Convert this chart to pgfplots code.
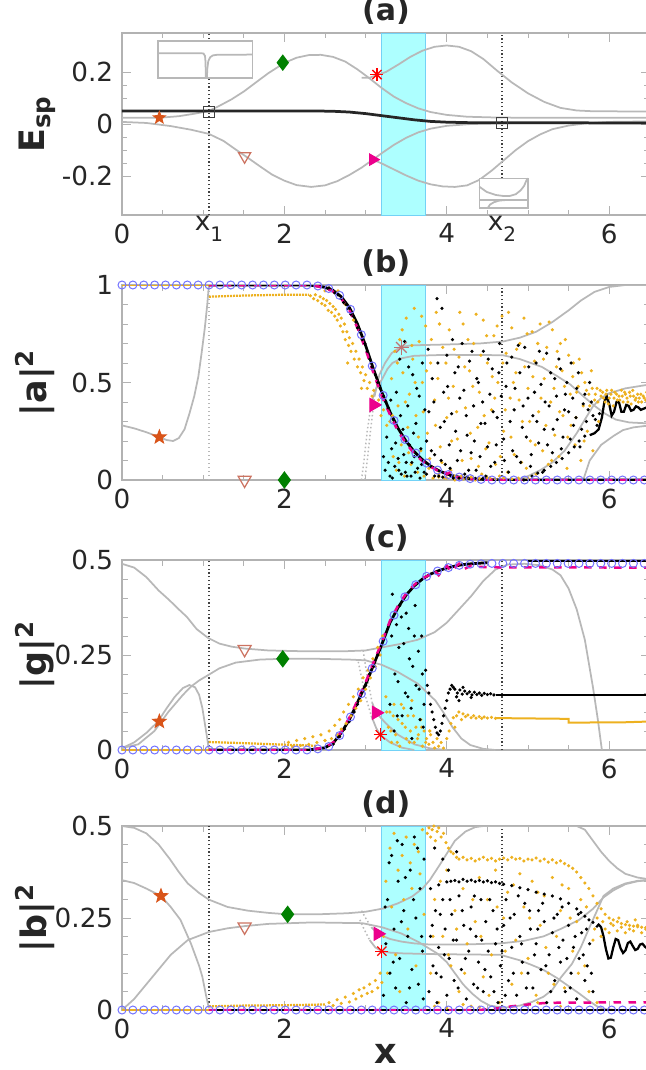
\documentclass[border=0pt]{standalone}
\usepackage{fontspec}
\setmainfont{DejaVu Sans}
\usepackage{pgfplots}
\pgfplotsset{compat=1.18}
\usetikzlibrary{plotmarks}

\definecolor{mlorange}{rgb}{0.929,0.694,0.125}
\definecolor{cgray}{rgb}{0.72,0.72,0.72}
\definecolor{axgray}{rgb}{0.70,0.70,0.70}
\definecolor{starc}{rgb}{0.85,0.33,0.10}
\definecolor{tric}{rgb}{0.80,0.45,0.38}
\definecolor{astb}{rgb}{0.75,0.45,0.45}
\definecolor{circc}{rgb}{0.45,0.45,1.0}
\definecolor{dgreen}{rgb}{0.0,0.5,0.0}
\definecolor{bandc}{rgb}{0.68,1.0,1.0}

% filled five-pointed star
\pgfdeclareplotmark{fstar}{%
  \pgfpathmoveto{\pgfpointpolar{90}{\pgfplotmarksize}}%
  \pgfpathlineto{\pgfpointpolar{126}{0.42\pgfplotmarksize}}%
  \pgfpathlineto{\pgfpointpolar{162}{\pgfplotmarksize}}%
  \pgfpathlineto{\pgfpointpolar{198}{0.42\pgfplotmarksize}}%
  \pgfpathlineto{\pgfpointpolar{234}{\pgfplotmarksize}}%
  \pgfpathlineto{\pgfpointpolar{270}{0.42\pgfplotmarksize}}%
  \pgfpathlineto{\pgfpointpolar{306}{\pgfplotmarksize}}%
  \pgfpathlineto{\pgfpointpolar{342}{0.42\pgfplotmarksize}}%
  \pgfpathlineto{\pgfpointpolar{18}{\pgfplotmarksize}}%
  \pgfpathlineto{\pgfpointpolar{54}{0.42\pgfplotmarksize}}%
  \pgfpathclose\pgfusepathqfillstroke}

\pgfplotsset{
  panel/.style={
    scale only axis, width=211.12pt, anchor=north west,
    xmin=0, xmax=6.5,
    xtick={0,2,4,6}, xticklabels={0,2,4,6}, minor x tick num=3,
    tick align=inside,
    major tick length=3.6pt, minor tick length=2.2pt,
    axis line style={draw=axgray, line width=0.5pt},
    tick style={draw=axgray, line width=0.4pt},
    tick label style={font=\fontsize{10.5}{12}\selectfont, text=black!85},
    /pgf/number format/assume math mode=true,
    title style={font=\bfseries\fontsize{12}{14}\selectfont, yshift=-6pt, text=black!85},
    ylabel style={font=\bfseries\fontsize{14}{16}\selectfont, at={(axis description cs:-0.11,0.5)}, anchor=south, text=black!85},
    xlabel style={font=\bfseries\fontsize{14}{16}\selectfont, yshift=4.5pt, text=black!85},
  },
  gcurve/.style={cgray, line width=0.7pt},
  vline/.style={black!75, densely dotted, line width=0.5pt},
  dots/.style={only marks, mark=*, mark size=0.42pt, mark options={draw=none}},
}

\begin{document}
\begin{tikzpicture}
\useasboundingbox (0,0) rectangle (258.4pt,-428pt);

% ---------------- (a) ----------------
\begin{axis}[panel, at={(48.8pt,-13.2pt)}, height=72.8pt,
  ymin=-0.35, ymax=0.35, ytick={-0.2,0,0.2}, yticklabels={-0.2,0,0.2}, minor y tick num=3,
  extra x ticks={1.07,4.68},
  extra x tick labels={x\raisebox{-0.4em}{\fontsize{8}{9}\selectfont 1}, x\raisebox{-0.4em}{\fontsize{8}{9}\selectfont 2}},
  extra x tick style={tick style={draw=none}, tick label style={yshift=3pt}},
  title={(a)}, ylabel={E\textsubscript{sp}}]
\addplot[fill=bandc, draw=cyan!55, line width=0.3pt] coordinates {(3.2,-0.35) (3.2,0.35) (3.73,0.35) (3.73,-0.35)} -- cycle;
\addplot[vline] coordinates {(1.07,-0.35) (1.07,0.35)};
\addplot[vline] coordinates {(4.68,-0.209) (4.68,0.35)};
\addplot[gcurve] coordinates {(0,0.024) (0.3,0.024) (0.5,0.025) (0.7,0.03) (0.9,0.04) (1.07,0.05) (1.2,0.07) (1.35,0.095) (1.5,0.125) (1.65,0.16) (1.8,0.195) (2.0,0.235) (2.15,0.255) (2.3,0.265) (2.45,0.266) (2.6,0.258) (2.75,0.24) (2.9,0.21) (3.05,0.175) (3.2,0.138) (3.35,0.105) (3.5,0.08) (3.65,0.06) (3.8,0.046) (4.0,0.035) (4.25,0.028) (4.6,0.025) (5.0,0.024) (6.5,0.024)};
\addplot[gcurve] coordinates {(2.95,0.178) (3.05,0.178) (3.14,0.188) (3.25,0.2) (3.4,0.228) (3.55,0.258) (3.7,0.282) (3.85,0.297) (4.0,0.302) (4.15,0.297) (4.3,0.28) (4.45,0.25) (4.62,0.205) (4.8,0.16) (5.0,0.118) (5.2,0.085) (5.4,0.062) (5.6,0.052) (5.8,0.049) (6.5,0.048)};
\addplot[gcurve] coordinates {(0,0.008) (0.3,0.004) (0.6,-0.008) (0.85,-0.022) (1.07,-0.038) (1.25,-0.065) (1.4,-0.098) (1.55,-0.13) (1.7,-0.163) (1.85,-0.195) (2.0,-0.218) (2.15,-0.235) (2.33,-0.242) (2.5,-0.236) (2.65,-0.22) (2.8,-0.196) (2.95,-0.168) (3.09,-0.137) (3.2,-0.112) (3.35,-0.08) (3.5,-0.053) (3.65,-0.032) (3.8,-0.018) (4.0,-0.007) (4.3,0.0) (4.8,0.003) (6.5,0.004)};
\addplot[gcurve] coordinates {(3.09,-0.137) (3.2,-0.152) (3.35,-0.175) (3.5,-0.198) (3.65,-0.218) (3.8,-0.232) (3.95,-0.24) (4.1,-0.242) (4.25,-0.236) (4.4,-0.215) (4.55,-0.18) (4.7,-0.14) (4.85,-0.1) (5.0,-0.066) (5.15,-0.04) (5.3,-0.02) (5.5,-0.006) (5.7,0.002) (6.0,0.008) (6.5,0.01)};
\addplot[black!85, line width=1.1pt] coordinates {(0,0.05) (2.4,0.05) (2.6,0.049) (2.8,0.046) (3.0,0.04) (3.2,0.032) (3.4,0.024) (3.6,0.016) (3.8,0.01) (4.0,0.007) (4.3,0.005) (6.5,0.004)};
% insets
\addplot[fill=white, draw=cgray, line width=0.6pt] coordinates {(0.445,0.177) (0.445,0.319) (1.61,0.319) (1.61,0.177)} -- cycle;
\addplot[gcurve] coordinates {(0.445,0.272) (0.981,0.272) (1.004,0.271) (1.022,0.262) (1.028,0.241) (1.031,0.205) (1.033,0.177)};
\addplot[gcurve] coordinates {(1.045,0.177) (1.051,0.213) (1.062,0.241) (1.086,0.257) (1.121,0.264) (1.167,0.266) (1.61,0.267)};
\addplot[fill=white, draw=cgray, line width=0.6pt] coordinates {(4.4,-0.324) (4.4,-0.209) (5.0,-0.209) (5.0,-0.324)} -- cycle;
\addplot[gcurve] coordinates {(4.4,-0.241) (4.49,-0.261) (4.604,-0.273) (4.7,-0.277) (4.772,-0.277) (4.85,-0.27) (4.91,-0.255) (4.952,-0.238) (4.982,-0.216) (5.0,-0.209)};
\addplot[gcurve] coordinates {(4.4,-0.292) (5.0,-0.292)};
\addplot[gcurve] coordinates {(4.502,-0.324) (4.532,-0.31) (4.58,-0.301) (4.64,-0.295) (4.7,-0.293) (4.76,-0.292)};
% markers
\addplot[only marks, mark=square, mark size=2.1pt, black!75, line width=0.5pt] coordinates {(1.07,0.046) (4.68,0.004)};
\addplot[only marks, mark=fstar, mark size=2.5pt, starc] coordinates {(0.46,0.024)};
\addplot[only marks, mark=triangle, mark size=2.8pt, tric, line width=0.5pt, mark options={rotate=180}] coordinates {(1.51,-0.124)};
\addplot[only marks, mark=diamond*, mark size=3pt, dgreen] coordinates {(1.98,0.236)};
\addplot[only marks, mark=triangle*, mark size=2.6pt, magenta, mark options={rotate=-90}] coordinates {(3.09,-0.137)};
\addplot[only marks, mark=+, mark size=2.6pt, red, line width=0.5pt] coordinates {(3.14,0.19)};
\addplot[only marks, mark=x, mark size=2.6pt, red, line width=0.5pt] coordinates {(3.14,0.19)};
\end{axis}

% ---------------- (b) ----------------
\begin{axis}[panel, at={(48.8pt,-114pt)}, height=78pt,
  ymin=0, ymax=1, ytick={0,0.5,1}, yticklabels={0,0.5,1}, minor y tick num=4,
  title={(b)}, ylabel={|a|\textsuperscript{2}}]
\addplot[fill=bandc, draw=cyan!55, line width=0.3pt] coordinates {(3.2,0) (3.2,1) (3.73,1) (3.73,0)} -- cycle;
\addplot[cgray, densely dotted, line width=0.6pt] coordinates {(1.07,0) (1.07,1)};
\addplot[vline] coordinates {(4.68,0) (4.68,1)};
\addplot[gcurve] coordinates {(0,0.28) (0.15,0.265) (0.3,0.245) (0.46,0.22) (0.55,0.205) (0.63,0.2) (0.7,0.215) (0.77,0.26) (0.83,0.34) (0.89,0.43) (0.94,0.53) (0.98,0.65) (1.02,0.78) (1.05,0.9) (1.07,1.0) (2.3,1.0)};
\addplot[cgray, densely dotted, line width=0.6pt] coordinates {(2.99,0) (3.02,0.1) (3.06,0.25) (3.11,0.43)};
\addplot[gcurve] coordinates {(3.11,0.43) (3.17,0.54) (3.24,0.6) (3.32,0.65) (3.42,0.68) (3.55,0.69) (3.7,0.692) (4.0,0.695) (4.4,0.7) (4.69,0.71) (4.9,0.73) (5.1,0.76) (5.3,0.81) (5.5,0.87) (5.65,0.92) (5.82,0.965) (6.0,0.99) (6.2,1.0) (6.5,1.0)};
\addplot[cgray, densely dotted, line width=0.6pt] coordinates {(2.95,0) (2.98,0.1) (3.02,0.25) (3.07,0.395)};
\addplot[gcurve] coordinates {(3.07,0.395) (3.13,0.47) (3.2,0.515) (3.27,0.57) (3.33,0.6) (3.45,0.625) (3.6,0.637) (4.0,0.642) (4.69,0.64) (4.9,0.62) (5.17,0.58) (5.35,0.535) (5.52,0.49) (5.68,0.43) (5.82,0.38) (5.95,0.34) (6.08,0.31) (6.25,0.295) (6.5,0.29)};
\addplot[gcurve] coordinates {(4.85,0) (5.0,0.02) (5.15,0.05) (5.3,0.09) (5.45,0.15) (5.6,0.24) (5.7,0.31) (5.8,0.378) (5.9,0.42) (6.0,0.445) (6.2,0.47) (6.5,0.49)};
\addplot[gcurve] coordinates {(5.68,0) (5.76,0.1) (5.9,0.18) (6.05,0.225) (6.17,0.256) (6.3,0.27) (6.5,0.28)};
\addplot[mlorange, line width=1pt] coordinates {(0,1) (1.07,1)};
\addplot[mlorange, line width=0.9pt, dash pattern=on 0.8pt off 0.4pt] coordinates {(1.07,0.94) (1.5,0.946) (2.0,0.95) (2.3,0.95)};
\addplot[dots, mlorange] coordinates {(2.32,0.945) (2.36,0.93) (2.38,0.95) (2.41,0.92) (2.44,0.94) (2.46,0.905) (2.48,0.93) (2.5,0.895) (2.52,0.92) (2.54,0.87) (2.56,0.905) (2.58,0.86) (2.6,0.89) (2.62,0.84) (2.63,0.875) (2.65,0.82) (2.67,0.85) (2.69,0.79) (2.7,0.83) (2.72,0.76) (2.74,0.8) (2.75,0.72) (2.77,0.76) (2.79,0.69) (2.8,0.73) (2.82,0.66) (2.84,0.7) (2.86,0.62) (2.88,0.66) (2.9,0.58) (2.92,0.62) (2.94,0.55) (2.96,0.58) (2.98,0.51) (3.0,0.54) (3.02,0.47) (3.05,0.5) (3.08,0.43) (3.1,0.46) (3.13,0.38) (3.16,0.41) (3.19,0.33) (3.22,0.36) (3.26,0.28) (3.3,0.3) (2.5,0.97) (2.66,0.97) (2.75,0.9) (2.85,0.82) (2.78,0.6) (2.95,0.47)
 (3.32,0.52) (3.34,0.12) (3.36,0.66) (3.38,0.05) (3.4,0.38) (3.42,0.72) (3.44,0.18) (3.46,0.55) (3.48,0.02) (3.5,0.83) (3.52,0.27) (3.54,0.44) (3.56,0.08) (3.58,0.62) (3.6,0.88) (3.62,0.33) (3.64,0.04) (3.66,0.71) (3.68,0.15) (3.7,0.5) (3.72,0.02) (3.74,0.79) (3.76,0.24) (3.78,0.06) (3.8,0.6) (3.83,0.01) (3.85,0.41) (3.87,0.86) (3.9,0.03) (3.92,0.17) (3.95,0.68) (3.97,0.01) (4.0,0.32) (4.03,0.77) (4.05,0.05) (4.08,0.48) (4.1,0.0) (4.13,0.21) (4.15,0.63) (4.18,0.02) (4.2,0.8) (4.23,0.37) (4.25,0.01) (4.28,0.56) (4.3,0.11) (4.33,0.7) (4.35,0.0) (4.38,0.27) (4.4,0.45) (4.43,0.03) (4.45,0.82) (4.48,0.16) (4.5,0.6) (4.53,0.01) (4.55,0.36) (4.58,0.74) (4.6,0.08) (4.63,0.5) (4.65,0.02) (4.68,0.84) (4.7,0.25) (4.73,0.65) (4.75,0.04) (4.78,0.42) (4.8,0.78) (4.83,0.13) (4.85,0.55) (4.88,0.01) (4.9,0.7) (4.93,0.3) (4.95,0.83) (4.98,0.06) (5.0,0.47) (5.03,0.2) (5.05,0.76) (5.08,0.61) (5.1,0.03) (5.13,0.35) (5.15,0.8) (5.18,0.15) (5.2,0.52) (5.23,0.68) (5.25,0.08) (5.28,0.4) (5.3,0.77) (5.33,0.23) (5.35,0.58) (5.38,0.12) (5.4,0.7) (5.43,0.33) (5.45,0.48) (5.48,0.06) (5.5,0.64) (5.53,0.28) (5.55,0.53) (5.58,0.18) (5.6,0.45) (5.63,0.62) (5.65,0.1) (5.68,0.38) (5.7,0.5) (5.73,0.25) (5.75,0.44) (5.78,0.56) (5.8,0.15) (5.82,0.41) (5.85,0.47) (5.87,0.3) (5.9,0.43) (5.92,0.45) (5.95,0.4) (5.97,0.46) (6.0,0.42) (6.02,0.44) (6.05,0.38) (6.07,0.45) (6.1,0.41) (6.12,0.43) (6.15,0.46) (6.17,0.4) (6.2,0.44) (6.22,0.42) (6.25,0.45) (6.27,0.39) (6.3,0.43) (6.32,0.41) (6.35,0.44) (6.37,0.42) (6.4,0.4) (6.42,0.43) (6.45,0.41) (6.48,0.44)
 (3.9,0.015) (4.0,0.01) (4.1,0.02) (4.2,0.005) (4.3,0.015) (4.4,0.008) (4.5,0.012) (4.6,0.004) (4.7,0.01) (4.8,0.006) (4.9,0.003) (5.0,0.008)
 (3.33,0.33) (3.39,0.6) (3.41,0.09) (3.45,0.77) (3.49,0.4) (3.53,0.14) (3.57,0.69) (3.61,0.5) (3.65,0.22) (3.69,0.84) (3.71,0.35) (3.75,0.56) (3.79,0.11) (3.81,0.72) (3.86,0.28) (3.89,0.52) (3.91,0.8) (3.94,0.09) (3.99,0.6) (4.02,0.42) (4.06,0.2) (4.09,0.67) (4.12,0.35) (4.16,0.86) (4.19,0.1) (4.22,0.58) (4.26,0.72) (4.29,0.24) (4.32,0.48) (4.36,0.85) (4.39,0.07) (4.42,0.64) (4.46,0.33) (4.49,0.74) (4.52,0.19) (4.56,0.53) (4.59,0.42) (4.62,0.79) (4.66,0.12) (4.69,0.6) (4.72,0.36) (4.76,0.86) (4.79,0.22) (4.82,0.5) (4.86,0.67) (4.89,0.41) (4.92,0.09) (4.96,0.58) (4.99,0.75) (5.02,0.3) (5.06,0.53) (5.09,0.18) (5.12,0.7) (5.16,0.42) (5.19,0.62) (5.22,0.28) (5.26,0.81) (5.29,0.1) (5.32,0.47) (5.36,0.66) (5.39,0.35) (5.42,0.56) (5.46,0.72) (5.49,0.22) (5.52,0.44) (5.56,0.6) (5.59,0.32) (5.62,0.48) (5.66,0.55) (5.69,0.2) (5.72,0.46) (5.76,0.38) (5.79,0.47) (5.83,0.44) (5.86,0.4) (5.89,0.46) (5.93,0.42) (5.96,0.44) (5.99,0.39) (6.03,0.46) (6.06,0.42) (6.09,0.44) (6.13,0.41) (6.16,0.43) (6.19,0.45) (6.23,0.4) (6.26,0.43) (6.29,0.46) (6.33,0.42) (6.36,0.4) (6.39,0.44) (6.43,0.42) (6.46,0.45) (6.49,0.41)};
\addplot[dots, black] coordinates {(2.55,0.985) (2.62,0.96) (2.66,0.95) (2.7,0.93) (2.73,0.91) (2.76,0.9) (2.78,0.88) (2.82,0.85) (2.85,0.84) (2.88,0.81) (2.9,0.78) (2.93,0.76) (2.96,0.72) (2.99,0.7) (3.02,0.66) (3.05,0.62) (3.08,0.58) (3.12,0.54) (3.15,0.5) (3.18,0.47) (3.22,0.43) (3.25,0.4) (3.28,0.37)
 (3.22,0.12) (3.24,0.05) (3.26,0.22) (3.28,0.09) (3.3,0.02) (3.32,0.16) (3.34,0.31) (3.36,0.07) (3.38,0.45) (3.4,0.11) (3.42,0.62) (3.44,0.03) (3.46,0.26) (3.48,0.71) (3.5,0.09) (3.52,0.38) (3.54,0.18) (3.56,0.02) (3.58,0.54) (3.6,0.12) (3.62,0.29) (3.64,0.06) (3.66,0.43) (3.68,0.16) (3.7,0.6) (3.72,0.04) (3.75,0.2) (3.78,0.35) (3.8,0.07) (3.82,0.52) (3.85,0.13) (3.88,0.93) (3.9,0.02) (3.92,0.27) (3.94,0.88) (3.96,0.45) (3.98,0.08) (4.0,0.64) (4.03,0.18) (4.06,0.34) (4.08,0.01) (4.1,0.55) (4.13,0.1) (4.16,0.42) (4.19,0.7) (4.22,0.03) (4.25,0.23) (4.28,0.61) (4.3,0.14) (4.33,0.38) (4.36,0.05) (4.39,0.5) (4.42,0.29) (4.45,0.66) (4.48,0.02) (4.5,0.17) (4.53,0.44) (4.56,0.57) (4.59,0.09) (4.62,0.32) (4.65,0.7) (4.7,0.21) (4.73,0.48) (4.76,0.04) (4.8,0.63) (4.83,0.36) (4.86,0.12) (4.9,0.55) (4.93,0.27) (4.96,0.68) (5.0,0.42) (5.03,0.07) (5.06,0.33) (5.1,0.6) (5.13,0.19) (5.16,0.49) (5.2,0.26) (5.23,0.65) (5.26,0.38) (5.3,0.14) (5.33,0.52) (5.36,0.31) (5.4,0.57) (5.43,0.22) (5.46,0.44) (5.5,0.35) (5.53,0.6) (5.56,0.28) (5.6,0.47) (5.64,0.17) (5.68,0.39) (5.72,0.3) (5.76,0.5) (5.8,0.33) (5.85,0.28)
 (4.95,0.0) (5.05,0.02) (5.12,0.035) (5.2,0.05) (5.28,0.07) (5.35,0.09) (5.42,0.11) (5.5,0.14) (5.57,0.17) (5.63,0.2) (5.7,0.225)
 (3.75,0.03) (3.85,0.02) (3.95,0.015) (4.05,0.02) (4.15,0.01) (4.25,0.015) (4.35,0.008) (4.45,0.01)
 (3.31,0.41) (3.37,0.19) (3.43,0.33) (3.49,0.04) (3.53,0.58) (3.59,0.24) (3.63,0.47) (3.69,0.08) (3.73,0.36) (3.77,0.67) (3.81,0.15) (3.84,0.4) (3.89,0.6) (3.93,0.1) (3.97,0.3) (4.01,0.48) (4.04,0.06) (4.07,0.72) (4.11,0.25) (4.14,0.58) (4.17,0.15) (4.21,0.46) (4.24,0.33) (4.27,0.05) (4.31,0.66) (4.34,0.2) (4.37,0.52) (4.41,0.12) (4.44,0.4) (4.47,0.29) (4.51,0.62) (4.54,0.07) (4.57,0.35) (4.61,0.18) (4.64,0.55) (4.67,0.43) (4.71,0.1) (4.74,0.6) (4.78,0.3) (4.81,0.15) (4.84,0.47) (4.88,0.69) (4.91,0.09) (4.94,0.38) (4.98,0.22) (5.01,0.58) (5.04,0.13) (5.08,0.45) (5.11,0.3) (5.14,0.66) (5.18,0.04) (5.21,0.4) (5.24,0.18) (5.28,0.55) (5.31,0.26) (5.35,0.43) (5.38,0.62) (5.41,0.16) (5.45,0.36) (5.48,0.5) (5.52,0.21) (5.55,0.42) (5.59,0.32) (5.62,0.55) (5.66,0.26) (5.7,0.44) (5.74,0.36) (5.78,0.4) (5.83,0.31) (5.88,0.34)
 (3.33,0.01) (3.41,0.05) (3.47,0.13) (3.51,0.02) (3.57,0.09) (3.61,0.04) (3.67,0.01) (3.71,0.1)};
\addplot[black, line width=1.1pt] coordinates {(1.07,1) (2.3,1) (2.4,0.995) (2.5,0.988) (2.6,0.972) (2.7,0.94) (2.8,0.885) (2.9,0.8) (3.0,0.69) (3.1,0.565) (3.2,0.45) (3.3,0.35) (3.4,0.265) (3.5,0.198) (3.6,0.145) (3.7,0.104) (3.8,0.072) (3.9,0.048) (4.0,0.031) (4.1,0.019) (4.2,0.011) (4.3,0.006) (4.5,0.002) (4.7,0) (6.5,0)};
\addplot[black, line width=0.9pt] coordinates {(5.76,0.23) (5.82,0.24) (5.87,0.26) (5.91,0.32) (5.94,0.4) (5.97,0.43) (6.0,0.39) (6.03,0.33) (6.06,0.35) (6.09,0.4) (6.12,0.4) (6.15,0.35) (6.18,0.35) (6.21,0.385) (6.24,0.38) (6.27,0.355) (6.3,0.36) (6.33,0.378) (6.36,0.372) (6.39,0.36) (6.42,0.365) (6.46,0.372) (6.5,0.368)};
\addplot[magenta, dashed, line width=1pt] coordinates {(1.07,1) (2.3,1) (2.4,0.994) (2.5,0.985) (2.6,0.966) (2.7,0.93) (2.8,0.87) (2.9,0.78) (3.0,0.67) (3.1,0.545) (3.2,0.43) (3.3,0.335) (3.4,0.25) (3.5,0.187) (3.6,0.135) (3.7,0.097) (3.8,0.068) (3.9,0.045) (3.95,0.05) (4.0,0.03) (4.05,0.042) (4.1,0.016) (4.2,0.01) (4.3,0.005) (4.5,0.002) (4.7,0) (6.5,0)};
\addplot[only marks, mark=o, mark size=1.6pt, circc, line width=0.4pt] coordinates {(0,1) (0.134,1) (0.268,1) (0.402,1) (0.536,1) (0.67,1) (0.804,1) (0.938,1) (1.072,1) (1.206,1) (1.34,1) (1.474,1) (1.608,1) (1.742,1) (1.876,1) (2.01,1) (2.144,1) (2.278,1) (2.412,0.995) (2.546,0.982) (2.68,0.947) (2.814,0.875) (2.948,0.745) (3.082,0.585) (3.216,0.434) (3.35,0.305) (3.484,0.208) (3.618,0.138) (3.752,0.087) (3.886,0.051) (4.02,0.028) (4.154,0.015) (4.288,0.007) (4.422,0.003) (4.556,0) (4.69,0) (4.824,0) (4.958,0) (5.092,0) (5.226,0) (5.36,0) (5.494,0) (5.628,0) (5.762,0) (5.896,0) (6.03,0) (6.164,0) (6.298,0) (6.432,0)};
\addplot[only marks, mark=fstar, mark size=2.8pt, starc] coordinates {(0.46,0.22)};
\addplot[only marks, mark=triangle, mark size=3pt, tric, line width=0.5pt, mark options={rotate=180}] coordinates {(1.51,0.0)};
\addplot[only marks, mark=diamond*, mark size=3.2pt, dgreen] coordinates {(2.0,0.0)};
\addplot[only marks, mark=triangle*, mark size=3pt, magenta, mark options={rotate=-90}] coordinates {(3.1,0.385)};
\addplot[only marks, mark=+, mark size=3pt, astb, line width=0.5pt] coordinates {(3.44,0.68)};
\addplot[only marks, mark=x, mark size=3pt, astb, line width=0.5pt] coordinates {(3.44,0.68)};
\end{axis}

% ---------------- (c) ----------------
\begin{axis}[panel, at={(48.8pt,-224pt)}, height=76pt,
  ymin=0, ymax=0.5, ytick={0,0.25,0.5}, yticklabels={0,0.25,0.5}, minor y tick num=4,
  title={(c)}, ylabel={|g|\textsuperscript{2}}]
\addplot[fill=bandc, draw=cyan!55, line width=0.3pt] coordinates {(3.2,0) (3.2,0.5) (3.73,0.5) (3.73,0)} -- cycle;
\addplot[vline] coordinates {(1.07,0) (1.07,0.5)};
\addplot[vline] coordinates {(4.68,0) (4.68,0.5)};
\addplot[gcurve] coordinates {(0,0.49) (0.15,0.48) (0.3,0.455) (0.45,0.42) (0.58,0.395) (0.7,0.37) (0.8,0.35) (0.92,0.318) (1.06,0.295) (1.2,0.28) (1.35,0.272) (1.51,0.267) (1.8,0.262) (2.2,0.26) (2.76,0.26) (3.0,0.262) (3.2,0.27) (3.4,0.278) (3.64,0.29) (3.85,0.31) (4.0,0.335) (4.15,0.37) (4.3,0.405) (4.45,0.445) (4.6,0.475) (4.75,0.488) (4.96,0.49) (5.15,0.486) (5.3,0.475) (5.4,0.46) (5.5,0.425) (5.6,0.37) (5.7,0.29) (5.8,0.165) (5.86,0.08) (5.91,0.0)};
\addplot[gcurve] coordinates {(0,0.005) (0.15,0.02) (0.3,0.045) (0.44,0.074) (0.55,0.11) (0.65,0.14) (0.75,0.163) (0.83,0.171) (0.9,0.165) (0.95,0.145) (0.99,0.11) (1.02,0.07) (1.05,0.03) (1.07,0.0)};
\addplot[gcurve] coordinates {(0,0.005) (0.2,0.015) (0.4,0.05) (0.57,0.1) (0.75,0.145) (0.85,0.167) (0.95,0.183) (1.06,0.197) (1.2,0.215) (1.4,0.23) (1.7,0.238) (1.98,0.24) (2.4,0.24) (2.8,0.238) (3.0,0.236) (3.2,0.224) (3.4,0.205) (3.64,0.175) (3.86,0.13) (3.97,0.095) (4.07,0.06) (4.18,0.03) (4.29,0.013) (4.45,0.003) (4.6,0.0)};
\addplot[cgray, densely dotted, line width=0.6pt] coordinates {(2.97,0.262) (3.0,0.22) (3.04,0.17) (3.08,0.125)};
\addplot[gcurve] coordinates {(3.08,0.125) (3.13,0.098) (3.25,0.07) (3.4,0.04) (3.6,0.015) (3.8,0.004) (4.0,0.0)};
\addplot[cgray, densely dotted, line width=0.6pt] coordinates {(2.91,0.232) (2.95,0.19) (3.0,0.14) (3.07,0.09)};
\addplot[gcurve] coordinates {(3.07,0.09) (3.13,0.058) (3.18,0.04) (3.3,0.02) (3.45,0.006) (3.6,0.0)};
\addplot[mlorange, line width=1pt] coordinates {(0,0) (1.07,0)};
\addplot[mlorange, line width=0.9pt, dash pattern=on 0.8pt off 0.4pt] coordinates {(1.07,0.021) (1.5,0.018) (2.0,0.014) (2.4,0.011)};
\addplot[mlorange, line width=0.8pt] coordinates {(4.6,0.084) (5.5,0.082) (5.5,0.072) (6.2,0.073) (6.5,0.075)};
\addplot[dots, mlorange] coordinates {(2.05,0.02) (2.1,0.008) (2.15,0.025) (2.2,0.012) (2.25,0.03) (2.3,0.015) (2.35,0.035) (2.4,0.02) (2.45,0.04) (2.5,0.025) (2.55,0.05) (2.58,0.03) (2.62,0.065) (2.65,0.04) (2.68,0.08) (2.7,0.055) (2.73,0.1) (2.76,0.07) (2.79,0.12) (2.82,0.09) (2.85,0.14) (2.88,0.11) (2.91,0.16) (2.94,0.13) (2.97,0.19) (3.0,0.16) (3.03,0.21) (3.06,0.19) (3.09,0.24) (3.12,0.22) (3.15,0.27) (3.18,0.25) (3.21,0.3)
 (3.25,0.14) (3.28,0.06) (3.3,0.1) (3.32,0.02) (3.35,0.12) (3.37,0.04) (3.4,0.08) (3.42,0.01) (3.45,0.07) (3.47,0.11) (3.5,0.03) (3.52,0.09) (3.55,0.05) (3.57,0.13) (3.6,0.02) (3.62,0.06) (3.65,0.04) (3.68,0.08) (3.7,0.01) (3.72,0.05) (3.75,0.03) (3.78,0.015) (3.8,0.04) (3.83,0.02) (3.85,0.005) (3.88,0.03) (3.9,0.01) (3.93,0.02) (3.96,0.005)
 (3.26,0.1) (3.31,0.05) (3.34,0.09) (3.39,0.02) (3.44,0.12) (3.49,0.06) (3.54,0.02) (3.59,0.09) (3.64,0.03) (3.69,0.06) (3.74,0.02) (3.79,0.05)
 (4.0,0.03) (4.03,0.05) (4.05,0.07) (4.08,0.085) (4.1,0.06) (4.12,0.09) (4.15,0.1) (4.18,0.08) (4.2,0.095) (4.23,0.088) (4.26,0.092) (4.3,0.085) (4.33,0.09) (4.36,0.084) (4.4,0.088) (4.43,0.083) (4.46,0.087) (4.5,0.084) (4.55,0.086) (4.6,0.083)};
\addplot[dots, black] coordinates {(2.6,0.015) (2.68,0.035) (2.74,0.055) (2.8,0.075) (2.86,0.1) (2.9,0.12) (2.95,0.15) (3.0,0.17) (3.05,0.2) (3.1,0.22) (3.15,0.25)
 (3.3,0.12) (3.33,0.41) (3.35,0.05) (3.38,0.33) (3.4,0.18) (3.42,0.38) (3.45,0.09) (3.47,0.28) (3.5,0.36) (3.52,0.14) (3.54,0.24) (3.57,0.03) (3.6,0.3) (3.62,0.17) (3.65,0.26) (3.67,0.08) (3.7,0.2) (3.72,0.12) (3.74,0.21)
 (3.32,0.3) (3.36,0.2) (3.41,0.27) (3.44,0.35) (3.49,0.15) (3.53,0.32) (3.58,0.22) (3.61,0.38) (3.66,0.16) (3.69,0.3) (3.71,0.06) (3.39,0.09) (3.56,0.11)
 (3.76,0.17) (3.78,0.15) (3.8,0.12) (3.82,0.1) (3.84,0.08) (3.86,0.06) (3.88,0.045) (3.9,0.04) (3.92,0.05) (3.94,0.07) (3.96,0.09) (3.98,0.11) (4.0,0.13) (4.02,0.15) (4.04,0.16) (4.06,0.17) (4.08,0.165)
 (4.1,0.16) (4.13,0.15) (4.16,0.158) (4.19,0.147) (4.22,0.155) (4.25,0.148) (4.28,0.153) (4.31,0.145) (4.34,0.152) (4.37,0.146) (4.4,0.15) (4.43,0.144) (4.46,0.149) (4.5,0.146) (4.54,0.148) (4.58,0.145) (4.12,0.14) (4.2,0.165) (4.3,0.138) (4.15,0.13)};
\addplot[black, line width=0.8pt] coordinates {(4.6,0.145) (6.5,0.145)};
\addplot[black, line width=1.1pt] coordinates {(1.07,0) (2.3,0) (2.5,0.006) (2.6,0.018) (2.7,0.045) (2.8,0.08) (2.9,0.125) (3.0,0.172) (3.1,0.225) (3.2,0.278) (3.3,0.335) (3.4,0.375) (3.5,0.408) (3.6,0.432) (3.7,0.45) (3.8,0.463) (3.9,0.472) (4.0,0.479) (4.1,0.484) (4.2,0.488) (4.3,0.49) (4.5,0.493)};
\addplot[black, line width=1.1pt] coordinates {(5.0,0.498) (6.5,0.498)};
\addplot[magenta, dashed, line width=1pt] coordinates {(1.07,0) (2.3,0) (2.5,0.007) (2.6,0.02) (2.7,0.048) (2.8,0.085) (2.9,0.13) (3.0,0.178) (3.1,0.232) (3.2,0.284) (3.3,0.34) (3.4,0.38) (3.5,0.412) (3.6,0.435) (3.7,0.452) (3.8,0.462) (3.85,0.472) (3.9,0.46) (3.95,0.475) (4.0,0.485) (4.05,0.47) (4.1,0.48) (4.15,0.49) (4.2,0.475) (4.3,0.485) (4.4,0.482) (4.5,0.481) (6.5,0.48)};
\addplot[only marks, mark=o, mark size=1.6pt, circc, line width=0.4pt] coordinates {(0,0) (0.134,0) (0.268,0) (0.402,0) (0.536,0) (0.67,0) (0.804,0) (0.938,0) (1.072,0) (1.206,0) (1.34,0) (1.474,0) (1.608,0) (1.742,0) (1.876,0) (2.01,0) (2.144,0) (2.278,0) (2.412,0.003) (2.546,0.009) (2.68,0.038) (2.814,0.087) (2.948,0.148) (3.082,0.215) (3.216,0.286) (3.35,0.355) (3.484,0.403) (3.618,0.435) (3.752,0.457) (3.886,0.471) (4.02,0.48) (4.154,0.486) (4.288,0.489) (4.422,0.49) (4.556,0.491) (4.69,0.491) (4.824,0.491) (4.958,0.491) (5.092,0.491) (5.226,0.491) (5.36,0.491) (5.494,0.491) (5.628,0.491) (5.762,0.491) (5.896,0.491) (6.03,0.491) (6.164,0.491) (6.298,0.491) (6.432,0.491)};
\addplot[only marks, mark=fstar, mark size=2.8pt, starc] coordinates {(0.46,0.075)};
\addplot[only marks, mark=triangle, mark size=3pt, tric, line width=0.5pt, mark options={rotate=180}] coordinates {(1.51,0.265)};
\addplot[only marks, mark=diamond*, mark size=3.2pt, dgreen] coordinates {(1.98,0.24)};
\addplot[only marks, mark=triangle*, mark size=3pt, magenta, mark options={rotate=-90}] coordinates {(3.13,0.098)};
\addplot[only marks, mark=+, mark size=2.6pt, red, line width=0.5pt] coordinates {(3.18,0.04)};
\addplot[only marks, mark=x, mark size=2.6pt, red, line width=0.5pt] coordinates {(3.18,0.04)};
\end{axis}

% ---------------- (d) ----------------
\begin{axis}[panel, at={(48.8pt,-330.4pt)}, height=73.6pt,
  ymin=0, ymax=0.5, ytick={0,0.25,0.5}, yticklabels={0,0.25,0.5}, minor y tick num=4,
  title={(d)}, ylabel={|b|\textsuperscript{2}}, xlabel={x}]
\addplot[fill=bandc, draw=cyan!55, line width=0.3pt] coordinates {(3.2,0) (3.2,0.5) (3.73,0.5) (3.73,0)} -- cycle;
\addplot[vline] coordinates {(1.07,0) (1.07,0.5)};
\addplot[vline] coordinates {(4.68,0) (4.68,0.5)};
\addplot[gcurve] coordinates {(0,0.5) (0.15,0.495) (0.3,0.48) (0.45,0.45) (0.59,0.41) (0.7,0.375) (0.81,0.344) (0.95,0.318) (1.07,0.3) (1.3,0.28) (1.55,0.27) (1.8,0.264) (2.04,0.26) (2.4,0.26) (2.78,0.263) (3.0,0.267) (3.22,0.276) (3.4,0.29) (3.57,0.308) (3.7,0.33) (3.79,0.353) (3.9,0.39) (4.0,0.425) (4.1,0.46) (4.23,0.485) (4.35,0.497) (4.45,0.5) (5.6,0.5) (5.7,0.49) (5.8,0.46) (5.9,0.43) (6.0,0.405) (6.1,0.385) (6.2,0.37) (6.35,0.36) (6.5,0.355)};
\addplot[gcurve] coordinates {(0,0.353) (0.15,0.345) (0.3,0.33) (0.48,0.31) (0.6,0.28) (0.72,0.245) (0.85,0.18) (0.95,0.12) (0.99,0.09) (1.03,0.045) (1.07,0.005)};
\addplot[gcurve] coordinates {(0,0.0) (0.15,0.03) (0.3,0.07) (0.45,0.11) (0.6,0.15) (0.81,0.19) (1.07,0.212) (1.3,0.222) (1.51,0.228) (1.8,0.234) (2.34,0.238) (2.96,0.236) (3.2,0.225) (3.44,0.208) (3.65,0.185) (3.88,0.154) (4.0,0.13) (4.1,0.1) (4.2,0.07) (4.31,0.045) (4.42,0.025) (4.53,0.012) (4.7,0.006) (4.9,0.012) (5.05,0.022) (5.19,0.036) (5.3,0.055) (5.41,0.09) (5.54,0.125) (5.65,0.17) (5.76,0.226) (5.85,0.27) (5.93,0.31) (6.05,0.33) (6.2,0.344) (6.35,0.351) (6.5,0.354)};
\addplot[cgray, densely dotted, line width=0.6pt] coordinates {(2.95,0.27) (3.0,0.25) (3.07,0.225)};
\addplot[gcurve] coordinates {(3.07,0.225) (3.15,0.207) (3.3,0.193) (3.44,0.186) (3.6,0.181) (3.79,0.178) (4.2,0.178) (4.66,0.181) (4.95,0.188) (5.19,0.2) (5.4,0.22) (5.63,0.245) (5.8,0.275) (5.93,0.306) (6.05,0.325) (6.2,0.342) (6.35,0.35) (6.5,0.353)};
\addplot[cgray, densely dotted, line width=0.6pt] coordinates {(2.93,0.245) (2.98,0.22) (3.05,0.19)};
\addplot[gcurve] coordinates {(3.05,0.19) (3.12,0.17) (3.2,0.16) (3.3,0.156) (3.44,0.154) (3.8,0.152) (4.2,0.151) (4.66,0.15) (4.9,0.135) (5.05,0.122) (5.19,0.109) (5.35,0.088) (5.5,0.065) (5.63,0.045) (5.75,0.025) (5.85,0.01) (5.93,0.003) (6.1,0.0)};
\addplot[mlorange, line width=1pt] coordinates {(0,0) (1.07,0)};
\addplot[mlorange, line width=0.9pt, dash pattern=on 0.8pt off 0.4pt] coordinates {(1.07,0.01) (1.5,0.012) (2.0,0.013) (2.5,0.015)};
\addplot[dots, mlorange] coordinates {(2.55,0.02) (2.6,0.012) (2.65,0.028) (2.7,0.018) (2.75,0.035) (2.8,0.022) (2.85,0.045) (2.88,0.03) (2.92,0.055) (2.95,0.038) (2.98,0.06) (3.02,0.045) (3.05,0.07) (3.08,0.05) (3.12,0.08) (3.15,0.06) (3.18,0.1) (3.2,0.075)
 (3.22,0.2) (3.25,0.35) (3.27,0.1) (3.3,0.44) (3.32,0.28) (3.35,0.48) (3.37,0.15) (3.4,0.38) (3.42,0.05) (3.45,0.42) (3.47,0.3) (3.5,0.47) (3.52,0.22) (3.55,0.4) (3.57,0.33) (3.6,0.45) (3.62,0.12) (3.65,0.43) (3.67,0.37) (3.7,0.49) (3.72,0.26)
 (3.76,0.48) (3.78,0.495) (3.8,0.47) (3.82,0.49) (3.84,0.5) (3.86,0.46) (3.88,0.485) (3.9,0.495) (3.93,0.47) (3.96,0.48) (3.99,0.455) (4.02,0.44) (4.05,0.43) (4.08,0.425) (4.12,0.415)
 (4.15,0.41) (4.2,0.415) (4.25,0.408) (4.3,0.412) (4.35,0.405) (4.4,0.41) (4.45,0.415) (4.5,0.408) (4.55,0.412) (4.6,0.405) (4.65,0.41) (4.7,0.413) (4.75,0.408) (4.8,0.415) (4.85,0.41) (4.9,0.412) (4.95,0.405) (5.0,0.41) (5.05,0.408) (5.1,0.413) (5.15,0.405) (5.2,0.41) (5.25,0.402) (5.3,0.408) (5.35,0.4) (5.4,0.405) (5.45,0.398) (5.5,0.392) (5.55,0.385) (5.6,0.375) (5.65,0.36) (5.7,0.345) (5.75,0.33) (5.8,0.31) (5.85,0.29) (5.9,0.275) (5.95,0.26) (6.0,0.25) (6.05,0.245) (6.1,0.24) (6.15,0.235) (6.2,0.232) (6.25,0.23) (6.3,0.228) (6.35,0.226) (6.4,0.225) (6.45,0.224) (6.5,0.223)
 (5.9,0.2) (5.95,0.22) (6.0,0.21) (6.05,0.23) (6.1,0.215) (6.15,0.225) (6.2,0.21) (6.25,0.22) (6.3,0.215) (6.35,0.23) (6.4,0.21) (6.45,0.22) (5.85,0.25) (5.92,0.24) (6.02,0.235) (6.12,0.25) (6.22,0.24) (6.32,0.245)
 (3.8,0.1) (3.85,0.3) (3.9,0.02) (3.95,0.2) (4.0,0.38) (4.05,0.12) (4.1,0.27) (4.15,0.05) (4.2,0.33) (4.25,0.18) (4.3,0.01) (4.35,0.24) (4.4,0.36) (4.45,0.09) (4.5,0.3) (4.55,0.15) (4.6,0.38) (4.65,0.02) (4.7,0.25) (4.75,0.32) (4.8,0.07) (4.85,0.19) (4.9,0.37) (4.95,0.28) (5.0,0.14) (5.05,0.35) (5.1,0.04) (5.15,0.23) (5.2,0.31) (5.25,0.1) (5.3,0.36) (5.35,0.2) (5.4,0.27) (5.45,0.06) (5.5,0.33) (5.55,0.16) (5.6,0.24) (5.65,0.3) (5.7,0.12) (5.75,0.05) (5.8,0.19) (5.85,0.02)
 (3.83,0.2) (3.92,0.35) (4.02,0.15) (4.12,0.22) (4.22,0.1) (4.32,0.3) (4.42,0.2) (4.52,0.04) (4.62,0.28) (4.72,0.16) (4.82,0.34) (4.92,0.1) (5.02,0.25) (5.12,0.32) (5.22,0.17) (5.32,0.07) (5.42,0.34) (5.52,0.25) (5.62,0.1) (5.72,0.28) (5.82,0.22) (5.12,0.02) (5.4,0.01)
 (3.85,0.01) (4.0,0.005) (4.2,0.015) (4.4,0.008)};
\addplot[dots, black] coordinates {(3.22,0.04) (3.25,0.18) (3.27,0.3) (3.3,0.1) (3.32,0.42) (3.35,0.22) (3.37,0.06) (3.4,0.35) (3.42,0.14) (3.45,0.45) (3.47,0.27) (3.5,0.02) (3.52,0.2) (3.55,0.38) (3.57,0.11) (3.6,0.47) (3.62,0.25) (3.65,0.07) (3.67,0.33) (3.7,0.16) (3.72,0.41)
 (3.24,0.28) (3.29,0.4) (3.34,0.13) (3.39,0.46) (3.44,0.24) (3.49,0.36) (3.54,0.06) (3.59,0.3) (3.64,0.44) (3.69,0.2) (3.71,0.03)
 (3.8,0.33) (3.9,0.34) (4.0,0.348) (4.05,0.35) (4.1,0.352) (4.15,0.348) (4.2,0.355) (4.25,0.35) (4.3,0.353) (4.35,0.349) (4.4,0.352) (4.45,0.348) (4.5,0.351) (4.55,0.346) (4.6,0.348) (4.65,0.344) (4.7,0.342) (4.8,0.338) (4.9,0.332) (5.0,0.327) (5.1,0.32) (5.2,0.315) (5.3,0.31) (5.4,0.302) (5.5,0.29) (5.6,0.275) (5.65,0.265) (5.7,0.255) (5.75,0.245) (5.8,0.238)
 (3.78,0.05) (3.8,0.2) (3.83,0.12) (3.86,0.27) (3.88,0.02) (3.9,0.17) (3.93,0.09) (3.95,0.3) (3.98,0.22) (4.0,0.04) (4.03,0.14) (4.06,0.26) (4.09,0.08) (4.12,0.19) (4.15,0.31) (4.18,0.11) (4.21,0.23) (4.24,0.03) (4.27,0.16) (4.3,0.28) (4.33,0.07) (4.36,0.2) (4.39,0.13) (4.42,0.3) (4.45,0.05) (4.48,0.24) (4.51,0.16) (4.54,0.09) (4.57,0.27) (4.6,0.18) (4.63,0.02) (4.66,0.12) (4.7,0.23) (4.73,0.3) (4.76,0.08) (4.8,0.17) (4.83,0.26) (4.86,0.04) (4.9,0.2) (4.93,0.13) (4.96,0.29) (5.0,0.1) (5.03,0.22) (5.06,0.06) (5.1,0.18) (5.13,0.27) (5.16,0.11) (5.2,0.24) (5.23,0.02) (5.26,0.15) (5.3,0.21) (5.33,0.08) (5.36,0.26) (5.4,0.13) (5.43,0.19) (5.46,0.05) (5.5,0.23) (5.53,0.1) (5.56,0.17) (5.6,0.03) (5.63,0.14) (5.66,0.21) (5.7,0.08) (5.73,0.12) (5.76,0.18) (5.8,0.05)
 (3.82,0.23) (3.87,0.1) (3.92,0.26) (3.97,0.15) (4.04,0.3) (4.08,0.19) (4.14,0.06) (4.19,0.27) (4.23,0.14) (4.29,0.22) (4.34,0.31) (4.38,0.06) (4.43,0.19) (4.47,0.11) (4.53,0.3) (4.58,0.05) (4.62,0.22) (4.68,0.16) (4.72,0.04) (4.78,0.25) (4.82,0.1) (4.88,0.31) (4.92,0.18) (4.98,0.06) (5.02,0.27) (5.08,0.15) (5.12,0.22) (5.18,0.29) (5.22,0.12) (5.28,0.05) (5.32,0.25) (5.38,0.17) (5.42,0.28) (5.48,0.14) (5.52,0.06) (5.58,0.2) (5.62,0.26) (5.68,0.15) (5.72,0.22) (5.78,0.1)
 (3.85,0.44) (3.95,0.41) (4.02,0.38) (4.12,0.43)};
\addplot[black, line width=1.1pt] coordinates {(1.07,0) (6.5,0)};
\addplot[black, line width=0.9pt] coordinates {(5.84,0.225) (5.87,0.232) (5.9,0.225) (5.93,0.2) (5.96,0.165) (5.99,0.14) (6.02,0.142) (6.05,0.17) (6.08,0.193) (6.11,0.19) (6.14,0.168) (6.17,0.155) (6.2,0.162) (6.23,0.182) (6.26,0.186) (6.29,0.174) (6.32,0.163) (6.35,0.166) (6.38,0.178) (6.41,0.18) (6.44,0.172) (6.47,0.167) (6.5,0.17)};
\addplot[magenta, dashed, line width=1pt] coordinates {(1.07,0) (4.4,0) (4.6,0.004) (4.8,0.01) (5.0,0.015) (5.2,0.019) (5.4,0.02) (6.5,0.021)};
\addplot[only marks, mark=o, mark size=1.6pt, circc, line width=0.4pt] coordinates {(0,0) (0.134,0) (0.268,0) (0.402,0) (0.536,0) (0.67,0) (0.804,0) (0.938,0) (1.072,0) (1.206,0) (1.34,0) (1.474,0) (1.608,0) (1.742,0) (1.876,0) (2.01,0) (2.144,0) (2.278,0) (2.412,0) (2.546,0) (2.68,0) (2.814,0) (2.948,0) (3.082,0) (3.216,0) (3.35,0) (3.484,0) (3.618,0) (3.752,0) (3.886,0) (4.02,0) (4.154,0) (4.288,0) (4.422,0) (4.556,0) (4.69,0) (4.824,0) (4.958,0) (5.092,0) (5.226,0) (5.36,0) (5.494,0) (5.628,0) (5.762,0) (5.896,0) (6.03,0) (6.164,0) (6.298,0) (6.432,0)};
\addplot[only marks, mark=fstar, mark size=2.8pt, starc] coordinates {(0.48,0.31)};
\addplot[only marks, mark=triangle, mark size=3pt, tric, line width=0.5pt, mark options={rotate=180}] coordinates {(1.51,0.226)};
\addplot[only marks, mark=diamond*, mark size=3.2pt, dgreen] coordinates {(2.04,0.26)};
\addplot[only marks, mark=triangle*, mark size=3pt, magenta, mark options={rotate=-90}] coordinates {(3.15,0.207)};
\addplot[only marks, mark=+, mark size=2.6pt, red, line width=0.5pt] coordinates {(3.2,0.16)};
\addplot[only marks, mark=x, mark size=2.6pt, red, line width=0.5pt] coordinates {(3.2,0.16)};
\end{axis}
\end{tikzpicture}
\end{document}
